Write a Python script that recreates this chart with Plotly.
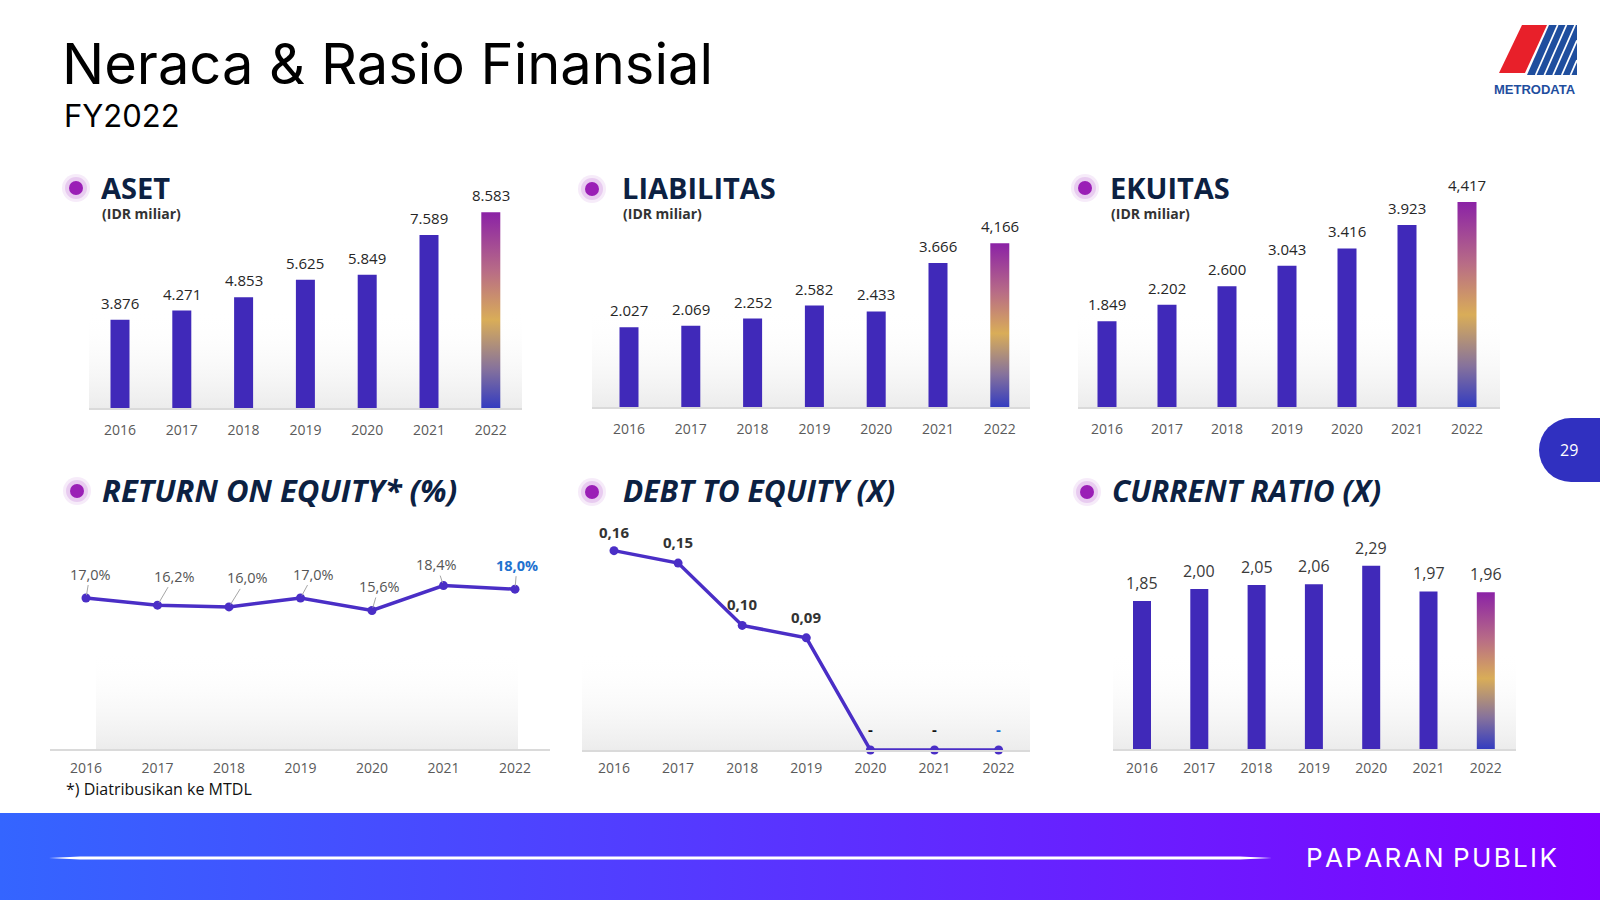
import base64
import plotly.graph_objects as go

W, H = 1600, 900

# ---------------- data ----------------
years = ["2016", "2017", "2018", "2019", "2020", "2021", "2022"]
aset = [3876, 4271, 4853, 5625, 5849, 7589, 8583]
aset_lbl = ["3.876", "4.271", "4.853", "5.625", "5.849", "7.589", "8.583"]
liab = [2027, 2069, 2252, 2582, 2433, 3666, 4166]
liab_lbl = ["2.027", "2.069", "2.252", "2.582", "2.433", "3.666", "4,166"]
ekuitas = [1849, 2202, 2600, 3043, 3416, 3923, 4417]
ekuitas_lbl = ["1.849", "2.202", "2.600", "3.043", "3.416", "3.923", "4,417"]
roe = [17.0, 16.2, 16.0, 17.0, 15.6, 18.4, 18.0]
roe_lbl = ["17,0%", "16,2%", "16,0%", "17,0%", "15,6%", "18,4%", "18,0%"]
der = [0.16, 0.15, 0.10, 0.09, 0.0, 0.0, 0.0]
der_lbl = ["0,16", "0,15", "0,10", "0,09", "-", "-", "-"]
cr = [1.85, 2.00, 2.05, 2.06, 2.29, 1.97, 1.96]
cr_lbl = ["1,85", "2,00", "2,05", "2,06", "2,29", "1,97", "1,96"]

# ---------------- style ----------------
BAR = "#4029b9"
LINE = "#4a2ec6"
NAVY = "#0c2142"
TICK = "#5a5a5a"
FONT = "Open Sans"
GRAD = [[0.0, "#343cc0"], [0.2, "#86729c"], [0.45, "#d9ad58"], [0.7, "#b86c86"], [1.0, "#8b22a6"]]


def fx(x):
    return x / W


def fy(y):
    return 1 - y / H


def svg_uri(svg):
    return "data:image/svg+xml;base64," + base64.b64encode(svg.encode()).decode()


# panel geometry (pixels): x0, x1, first centre, spacing, baseline, px per unit, top
panels = {
    1: dict(x0=89, x1=522, c0=120, sp=61.8, base=408, scale=0.0228, top=150, bw=19, so=8),
    2: dict(x0=592, x1=1030, c0=629, sp=61.8, base=407, scale=0.0393, top=150, bw=19, so=8),
    3: dict(x0=1078, x1=1500, c0=1107, sp=60.0, base=407, scale=0.0464, top=150, bw=19, so=8),
    4: dict(x0=50, x1=550, c0=86, sp=71.5, base=749, scale=8.88, top=510, bw=0, so=5),
    5: dict(x0=582, x1=1030, c0=614, sp=64.1, base=750, scale=1246, top=510, bw=0, so=4),
    6: dict(x0=1113, x1=1516, c0=1142, sp=57.3, base=749, scale=80.0, top=510, bw=18, so=5),
}

fig = go.Figure()
layout_axes = {}
annotations = []
shapes = []
images = []

for k, p in panels.items():
    xa = "xaxis" if k == 1 else f"xaxis{k}"
    ya = "yaxis" if k == 1 else f"yaxis{k}"
    layout_axes[xa] = dict(
        domain=[fx(p["x0"]), fx(p["x1"])],
        range=[(p["x0"] - p["c0"]) / p["sp"], (p["x1"] - p["c0"]) / p["sp"]],
        tickvals=list(range(len(years))), ticktext=years,
        tickfont=dict(family=FONT, size=14, color=TICK), ticklabelstandoff=p["so"],
        showgrid=False, zeroline=False, showline=True, linecolor="#dadada", linewidth=2,
        ticks="", anchor="y" if k == 1 else f"y{k}", fixedrange=True,
    )
    layout_axes[ya] = dict(
        domain=[fy(p["base"]), fy(p["top"])],
        range=[0, (p["base"] - p["top"]) / p["scale"]],
        visible=False, showgrid=False, zeroline=False,
        anchor="x" if k == 1 else f"x{k}", fixedrange=True,
    )
    # soft grey background band
    bg_top = p["base"] - 98
    bx0 = p["x0"] if k != 4 else 96
    bx1 = p["x1"] if k != 4 else 518
    svg = ("<svg xmlns='http://www.w3.org/2000/svg' width='100' height='100' preserveAspectRatio='none'>"
           "<defs><linearGradient id='g' x1='0' y1='0' x2='0' y2='1'>"
           "<stop offset='0' stop-color='#ffffff' stop-opacity='0'/>"
           "<stop offset='1' stop-color='#ececec' stop-opacity='1'/></linearGradient></defs>"
           "<rect width='100' height='100' fill='url(#g)'/></svg>")
    images.append(dict(source=svg_uri(svg), xref="paper", yref="paper",
                       x=fx(bx0), y=fy(bg_top), sizex=(bx1 - bx0) / W, sizey=(p["base"] - bg_top) / H,
                       xanchor="left", yanchor="top", sizing="stretch", layer="below"))

bar_sets = {1: (aset, aset_lbl), 2: (liab, liab_lbl), 3: (ekuitas, ekuitas_lbl), 6: (cr, cr_lbl)}
for k, (vals, lbls) in bar_sets.items():
    p = panels[k]
    xr = "x" if k == 1 else f"x{k}"
    yr = "y" if k == 1 else f"y{k}"
    w = p["bw"] / p["sp"]
    n = len(vals)
    colors = [BAR] * (n - 1) + ["rgba(0,0,0,0)"]
    fig.add_trace(go.Bar(x=list(range(n)), y=vals, width=w, marker=dict(color=colors, line=dict(width=0)),
                         xaxis=xr, yaxis=yr, showlegend=False, hoverinfo="skip"))
    i = n - 1
    v = vals[i]
    fig.add_trace(go.Scatter(x=[i - w / 2, i + w / 2, i + w / 2, i - w / 2, i - w / 2],
                             y=[0, 0, v, v, 0], mode="lines", fill="toself",
                             fillgradient=dict(type="vertical", colorscale=GRAD),
                             line=dict(width=0, color="rgba(0,0,0,0)"),
                             xaxis=xr, yaxis=yr, showlegend=False, hoverinfo="skip"))
    for j, (val, t) in enumerate(zip(vals, lbls)):
        annotations.append(dict(x=j, y=val, xref=xr, yref=yr, text=t, showarrow=False,
                                yanchor="bottom", yshift=5,
                                font=dict(family=FONT, size=15 if k != 6 else 16,
                                          color="#262626" if k != 6 else "#3a3a3a")))

# ROE line
fig.add_trace(go.Scatter(x=list(range(len(roe))), y=roe, mode="lines+markers",
                         line=dict(color=LINE, width=3.5), marker=dict(size=9, color=LINE),
                         xaxis="x4", yaxis="y4", showlegend=False, hoverinfo="skip", cliponaxis=False))
roe_off = [(4, -24), (17, -29), (18, -29), (13, -24), (7, -24), (-7, -21), (2, -24)]
for j, (val, t) in enumerate(zip(roe, roe_lbl)):
    last = j == len(roe) - 1
    annotations.append(dict(x=j, y=val, xref="x4", yref="y4",
                            text=f"<b>{t}</b>" if last else t,
                            showarrow=True, arrowhead=0, arrowwidth=1, arrowcolor="#a6a6a6",
                            ax=roe_off[j][0], ay=roe_off[j][1], standoff=3,
                            font=dict(family=FONT, size=14.5, color="#1f72cf" if last else "#555555")))

# DER line
fig.add_trace(go.Scatter(x=list(range(len(der))), y=der, mode="lines+markers",
                         line=dict(color=LINE, width=3.5), marker=dict(size=9, color=LINE),
                         xaxis="x5", yaxis="y5", showlegend=False, hoverinfo="skip", cliponaxis=False))
for j, (val, t) in enumerate(zip(der, der_lbl)):
    last = j == len(der) - 1
    annotations.append(dict(x=j, y=val, xref="x5", yref="y5", text=f"<b>{t}</b>", showarrow=False,
                            yanchor="middle", yshift=21 if j else 19,
                            font=dict(family=FONT, size=15,
                                      color="#1f72cf" if (last and t == "-") else ("#111111" if t == "-" else "#333333"))))

# ---------------- headers ----------------
def dot(cx, cy):
    for r, c in [(14, "rgba(170,60,200,0.10)"), (11, "rgba(170,60,200,0.18)"), (7, "#9a1fb6")]:
        shapes.append(dict(type="circle", xref="paper", yref="paper", layer="above",
                           x0=fx(cx - r), x1=fx(cx + r), y0=fy(cy + r), y1=fy(cy - r),
                           fillcolor=c, line=dict(width=0)))


headers = [
    (76, 188, 99, 187, "<b>ASET</b>", 29),
    (592, 189, 620, 187, "<b>LIABILITAS</b>", 29),
    (1085, 188, 1108, 187, "<b>EKUITAS</b>", 29),
    (77, 491, 100, 489, "<b><i>RETURN ON EQUITY* (%)</i></b>", 31),
    (592, 492, 621, 490, "<b><i>DEBT TO EQUITY (X)</i></b>", 30),
    (1087, 492, 1110, 490, "<b><i>CURRENT RATIO (X)</i></b>", 30),
]
for cx, cy, tx, ty, t, fs in headers:
    dot(cx, cy)
    annotations.append(dict(x=fx(tx), y=fy(ty), xref="paper", yref="paper", text=t, showarrow=False,
                            xanchor="left", yanchor="middle", height=int(fs * 1.15),
                            font=dict(family=FONT, size=fs, color=NAVY)))
for tx in (100, 621, 1109):
    annotations.append(dict(x=fx(tx), y=fy(214), xref="paper", yref="paper", text="<b>(IDR miliar)</b>",
                            showarrow=False, xanchor="left", yanchor="middle", height=17,
                            font=dict(family=FONT, size=14, color="#333333")))

annotations.append(dict(x=fx(64), y=fy(789), xref="paper", yref="paper", text="*) Diatribusikan ke MTDL",
                        showarrow=False, xanchor="left", yanchor="middle",
                        font=dict(family=FONT, size=16, color="#111111")))

# title
annotations.append(dict(x=fx(60), y=fy(64), xref="paper", yref="paper", text="Neraca &amp; Rasio Finansial",
                        showarrow=False, xanchor="left", yanchor="middle",
                        font=dict(family="Inter", size=56, color="#000000")))
annotations.append(dict(x=fx(62), y=fy(116), xref="paper", yref="paper", text="FY2022",
                        showarrow=False, xanchor="left", yanchor="middle",
                        font=dict(family="Inter", size=31, color="#000000")))

# ---------------- logo ----------------
def path(pts):
    return "M " + " L ".join(f"{fx(x):.5f},{fy(y):.5f}" for x, y in pts) + " Z"


shapes.append(dict(type="path", xref="paper", yref="paper",
                   path=path([(1499, 73), (1522, 25), (1547, 25), (1525, 73)]),
                   fillcolor="#e8202a", line=dict(width=0)))
shapes.append(dict(type="path", xref="paper", yref="paper",
                   path=path([(1527, 75), (1549, 25), (1577, 25), (1577, 75)]),
                   fillcolor="#1f4e9e", line=dict(width=0)))
slope = 0.44
for kk in range(1, 7):
    xt = 1549 + 8.7 * kk
    if xt <= 1577:
        sx, sy = xt, 25
    else:
        sx, sy = 1577, 25 + (xt - 1577) / slope
    if sy >= 75:
        break
    ex, ey = xt - slope * (75 - 25), 75
    shapes.append(dict(type="line", xref="paper", yref="paper", x0=fx(sx), y0=fy(sy), x1=fx(ex), y1=fy(ey),
                       line=dict(color="#ffffff", width=1.8)))
annotations.append(dict(x=fx(1535), y=fy(90), xref="paper", yref="paper", text="<b>METRODATA</b>",
                        showarrow=False, xanchor="center", yanchor="middle",
                        font=dict(family="Liberation Sans", size=13, color="#1f4e9e")))

# page tab
shapes.append(dict(type="circle", xref="paper", yref="paper", x0=fx(1539), x1=fx(1603), y0=fy(482), y1=fy(418),
                   fillcolor="#3030c0", line=dict(width=0)))
shapes.append(dict(type="rect", xref="paper", yref="paper", x0=fx(1571), x1=1, y0=fy(482), y1=fy(418),
                   fillcolor="#3030c0", line=dict(width=0)))
annotations.append(dict(x=fx(1569), y=fy(450), xref="paper", yref="paper", text="29", showarrow=False,
                        xanchor="center", yanchor="middle",
                        font=dict(family=FONT, size=16, color="#ffffff")))

# footer band
band_svg = ("<svg xmlns='http://www.w3.org/2000/svg' width='1600' height='87' preserveAspectRatio='none'>"
            "<defs><linearGradient id='b' x1='0' y1='0' x2='1' y2='0'>"
            "<stop offset='0' stop-color='#3465ff'/><stop offset='1' stop-color='#8000ff'/>"
            "</linearGradient></defs><rect width='1600' height='87' fill='url(#b)'/></svg>")
images.append(dict(source=svg_uri(band_svg), xref="paper", yref="paper", x=0, y=fy(813), sizex=1,
                   sizey=87 / H, xanchor="left", yanchor="top", sizing="stretch", layer="below"))
shapes.append(dict(type="path", xref="paper", yref="paper",
                   path=path([(49, 858), (80, 856.6), (1240, 856.6), (1272, 858), (1240, 859.4), (80, 859.4)]),
                   fillcolor="#ffffff", line=dict(width=0)))
annotations.append(dict(x=fx(1559), y=fy(857), xref="paper", yref="paper",
                        text="P A P A R A N &#8201; P U B L I K".replace(" ", "&#8202;"),
                        showarrow=False, xanchor="right", yanchor="middle",
                        font=dict(family="Inter", size=26, color="#ffffff")))

fig.update_layout(
    width=W, height=H, margin=dict(l=0, r=0, t=0, b=0),
    paper_bgcolor="#ffffff", plot_bgcolor="rgba(0,0,0,0)",
    showlegend=False, annotations=annotations, shapes=shapes, images=images,
    barmode="overlay", **layout_axes,
)

fig.write_html("out.html", config=dict(displayModeBar=False))
